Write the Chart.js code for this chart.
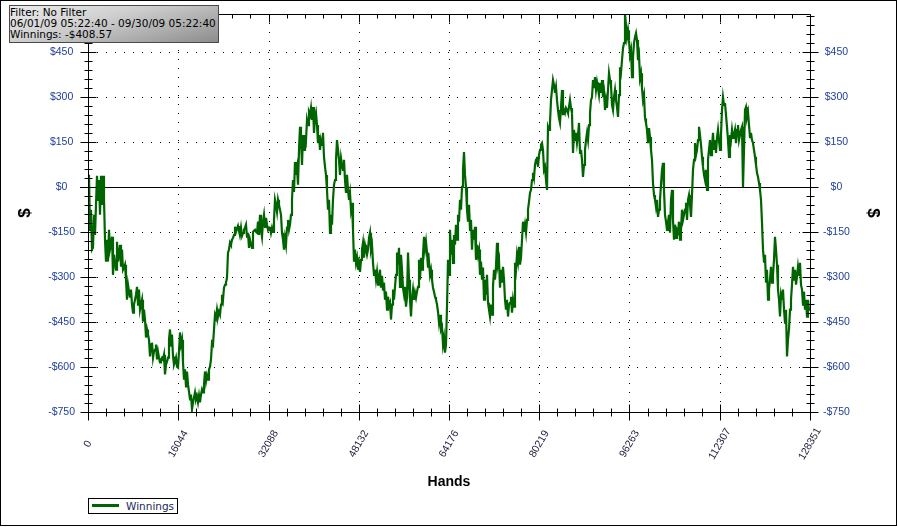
<!DOCTYPE html>
<html>
<head>
<meta charset="utf-8">
<script src="https://cdn.jsdelivr.net/npm/chart.js@4.4.1/dist/chart.umd.min.js"></script>
<style>
html,body{margin:0;padding:0;background:#fff;}
#wrap{position:relative;width:898px;height:527px;overflow:hidden;background:#fff;}
#c{position:absolute;left:0;top:0;}
#frame{position:absolute;left:0;top:0;width:897px;height:526px;box-sizing:border-box;border:1px solid #000;pointer-events:none;}
#info{position:absolute;left:9px;top:5px;width:210px;height:38px;box-sizing:border-box;border:1px solid #4a4a4a;
  background:linear-gradient(165deg,#ececec 0%,#cfcfcf 40%,#a9a9a9 75%,#8c8c8c 100%);
  font-family:"DejaVu Sans",sans-serif;font-size:10.5px;line-height:11px;color:#000;padding:1px 0 0 0;white-space:nowrap;}
#info div{height:11px;}
#legend{position:absolute;left:88px;top:498px;width:90px;height:16px;box-sizing:border-box;border:1px solid #000;background:#fff;}
#legend .sw{position:absolute;left:3px;top:5px;width:27px;height:3px;background:#006400;}
#legend .tx{position:absolute;left:37px;top:0px;line-height:14px;font-family:"DejaVu Sans",sans-serif;font-size:10.5px;color:#1a2a5a;}
</style>
</head>
<body>
<div id="wrap">
  <canvas id="c" width="898" height="527"></canvas>
  <div id="info">
    <div>Filter: No Filter</div>
    <div>06/01/09 05:22:40 - 09/30/09 05:22:40</div>
    <div>Winnings: -$408.57</div>
  </div>
  <div id="legend"><div class="sw"></div><div class="tx">Winnings</div></div>
  <div id="frame"></div>
</div>
<script>
// ---------- data ----------
const seriesName = 'Winnings';
const handsTotal = 128351;
const xTicks = [0, 16044, 32088, 48132, 64176, 80219, 96263, 112307, 128351];
const xTickLabels = ['0', '16044', '32088', '48132', '64176', '80219', '96263', '112307', '128351'];
const yTicks = [-750, -600, -450, -300, -150, 0, 150, 300, 450];
const yMin = -750, yMax = 576;
// cumulative winnings ($) at evenly spaced hand counts
const winnings = [
0,40,-143,-76,-209,-203,-93,-160,-60,37,-43,23,-93,37,-60,37,-43,-176,-249,-176,
-249,-143,-209,-193,-166,-293,-226,-249,-276,-183,-249,-226,-193,-266,-209,-276,-269,-259,-309,-376,
-326,-349,-369,-342,-392,-419,-392,-376,-359,-333,-392,-342,-409,-392,-376,-449,-409,-442,-502,-475,
-492,-509,-565,-525,-519,-569,-549,-542,-525,-575,-549,-569,-585,-575,-569,-575,-559,-625,-592,-582,
-569,-509,-475,-532,-492,-565,-592,-582,-569,-599,-602,-549,-485,-525,-509,-585,-642,-608,-665,-615,
-658,-682,-708,-692,-741,-718,-702,-685,-708,-698,-718,-695,-718,-692,-675,-685,-658,-615,-648,-628,
-642,-608,-599,-575,-519,-525,-475,-426,-436,-409,-432,-416,-426,-392,-359,-376,-336,-326,-319,-303,
-219,-209,-186,-193,-176,-170,-160,-133,-150,-140,-130,-146,-160,-136,-163,-153,-143,-136,-126,-166,
-153,-203,-176,-190,-203,-150,-146,-143,-150,-153,-116,-160,-93,-143,-166,-116,-93,-133,-103,-126,
-143,-136,-133,-153,-136,-150,-110,-43,-60,-83,-43,-60,-76,-93,-153,-176,-209,-170,-193,-136,
-110,-143,-126,-93,-43,23,-17,83,40,63,7,123,200,156,73,173,123,173,156,223,
206,249,239,263,223,266,180,229,246,206,146,173,123,156,140,180,100,67,40,-10,
-76,-43,-153,-93,-126,-43,7,23,90,156,123,90,40,96,73,57,90,23,-20,40,
-10,-43,-20,-76,-53,-143,-249,-209,-253,-236,-276,-253,-283,-243,-209,-186,-236,-193,-209,-226,
-209,-170,-153,-209,-193,-253,-293,-276,-309,-283,-326,-303,-276,-336,-296,-342,-319,-376,-349,-409,
-366,-396,-386,-442,-392,-342,-376,-333,-293,-219,-259,-203,-333,-226,-276,-336,-359,-333,-399,-369,
-219,-309,-376,-432,-369,-342,-376,-352,-369,-349,-333,-243,-309,-236,-276,-226,-166,-209,-183,-219,
-269,-249,-293,-276,-309,-336,-349,-366,-376,-392,-416,-452,-426,-475,-466,-525,-502,-552,-525,-399,
-243,-293,-143,-226,-176,-253,-160,-193,-126,-176,-93,-116,-43,-76,0,57,116,40,0,-76,
-116,-60,-143,-110,-209,-143,-176,-133,-243,-193,-226,-209,-293,-249,-309,-269,-376,-309,-359,-293,
-386,-409,-432,-392,-426,-333,-276,-309,-266,-186,-259,-243,-336,-276,-319,-266,-309,-376,-409,-376,
-432,-392,-386,-366,-419,-376,-399,-253,-276,-226,-249,-200,-259,-236,-176,-116,-150,-126,-153,-110,
-76,-50,-20,-10,23,47,30,73,90,100,67,106,123,140,146,123,57,67,23,-10,
200,190,213,289,323,356,339,313,333,289,256,229,213,263,323,239,256,246,263,256,
246,266,289,263,246,113,190,156,180,146,173,213,113,123,90,33,73,123,156,180,
156,206,246,289,299,356,329,366,323,349,329,306,346,313,356,299,316,256,289,263,
323,379,356,339,273,256,299,323,289,266,233,306,399,382,422,462,479,576,539,499,
522,489,439,456,366,432,479,499,512,489,422,439,362,379,329,289,306,229,213,190,
146,196,166,123,90,13,-27,-43,-67,-43,-100,-76,-43,7,57,80,-10,-93,-116,-143,
-116,-93,-153,-43,-10,-110,-176,-126,-170,-143,-150,-116,-176,-143,-76,-110,-93,-76,-53,-110,
-43,-27,-60,-100,-27,57,90,146,106,123,156,200,173,140,100,67,40,23,57,-10,
90,123,156,106,133,180,123,156,113,163,190,156,123,173,256,299,273,279,239,200,
156,100,173,156,190,163,173,190,146,190,206,156,173,190,200,0,123,256,266,233,
249,206,166,180,156,146,123,100,73,47,33,13,-10,-43,-120,-209,-249,-226,-319,-276,
-376,-342,-309,-266,-319,-293,-243,-166,-209,-259,-342,-376,-432,-359,-376,-342,-409,-452,-409,-565,
-509,-475,-409,-376,-326,-266,-309,-276,-326,-299,-266,-293,-253,-326,-342,-392,-349,-409,-376,-432,
-376,-409,-408.57
];
// hand count of each reading (even sampling grid across the session)
const hands = winnings.map((_, i) => Math.round(i * handsTotal / (winnings.length - 1)));

// ---------- helpers ----------
const money = v => (v < 0 ? '-$' : '$') + Math.abs(v);
const crisp = v => Math.round(v) + 0.5;
const yLabelColor = '#1e3f9a';
const xLabelColor = '#1a1a3a';

const frame = {
  id: 'frame',
  beforeDatasetsDraw(chart) {
    const {ctx, chartArea: a, scales: {x, y}} = chart;
    ctx.save();
    ctx.strokeStyle = '#000';
    ctx.lineWidth = 1;
    ctx.setLineDash([1, 8]);
    yTicks.forEach(v => {
      if (v === yMin || v === 0) return;
      const py = crisp(y.getPixelForValue(v));
      ctx.beginPath(); ctx.moveTo(a.left, py); ctx.lineTo(a.right, py); ctx.stroke();
    });
    xTicks.slice(1, -1).forEach(v => {
      const px = crisp(x.getPixelForValue(v));
      ctx.beginPath(); ctx.moveTo(px, a.top); ctx.lineTo(px, a.bottom); ctx.stroke();
    });
    ctx.setLineDash([]);
    const z = crisp(y.getPixelForValue(0));
    ctx.beginPath(); ctx.moveTo(a.left - 8, z); ctx.lineTo(a.right + 8, z); ctx.stroke();
    ctx.restore();
  },
  afterDatasetsDraw(chart) {
    const {ctx, chartArea: a, scales: {x, y}} = chart;
    const L = crisp(a.left), R = crisp(a.right), T = crisp(a.top), B = crisp(a.bottom);
    ctx.save();
    ctx.strokeStyle = '#000';
    ctx.lineWidth = 1;
    ctx.beginPath();
    ctx.moveTo(L, T); ctx.lineTo(R, T); ctx.lineTo(R, B); ctx.lineTo(L, B); ctx.closePath();
    ctx.stroke();
    ctx.beginPath();
    // y ticks (both sides)
    for (let v = yMin; v <= yMax; v += 30) {
      const py = crisp(y.getPixelForValue(v));
      const len = yTicks.includes(v) ? 8 : 4;
      ctx.moveTo(L - len, py); ctx.lineTo(L + len, py);
      ctx.moveTo(R - len, py); ctx.lineTo(R + len, py);
    }
    // x ticks (bottom and top)
    for (let i = 0; i < xTicks.length; i++) {
      const px = crisp(x.getPixelForValue(xTicks[i]));
      ctx.moveTo(px, B - 8); ctx.lineTo(px, B + 8);
      ctx.moveTo(px, T); ctx.lineTo(px, T + 8);
      if (i < xTicks.length - 1) {
        for (let k = 1; k < 5; k++) {
          const m = crisp(x.getPixelForValue(xTicks[i] + (xTicks[i + 1] - xTicks[i]) * k / 5));
          ctx.moveTo(m, B - 4); ctx.lineTo(m, B + 4);
          ctx.moveTo(m, T); ctx.lineTo(m, T + 4);
        }
      }
    }
    ctx.stroke();
    // rotated x labels, centred under their ticks
    ctx.fillStyle = xLabelColor;
    ctx.font = '10.5px "Liberation Sans"';
    ctx.textAlign = 'center';
    ctx.textBaseline = 'middle';
    xTicks.forEach((v, i) => {
      const px = x.getPixelForValue(v);
      ctx.save();
      ctx.translate(px, a.bottom + 32);
      ctx.rotate(-60 * Math.PI / 180);
      ctx.fillText(xTickLabels[i], 0, 0);
      ctx.restore();
    });
    ctx.restore();
  }
};

const yAxis = (position) => ({
  type: 'linear',
  position: position,
  min: yMin,
  max: yMax,
  afterBuildTicks: s => { s.ticks = yTicks.map(v => ({value: v})); },
  afterFit: s => { s.width = 88; s.paddingTop = 0; s.paddingBottom = 0; },
  grid: {display: false, drawTicks: false},
  border: {display: false},
  ticks: {
    crossAlign: 'center',
    padding: 13,
    color: yLabelColor,
    font: {family: 'Liberation Sans', size: 10.5},
    callback: v => money(v)
  },
  title: {
    display: true,
    text: '$',
    color: '#000',
    font: {family: 'Liberation Sans', size: 17, weight: 'bold'},
    padding: {top: 15, bottom: 0}
  }
});

new Chart(document.getElementById('c'), {
  type: 'line',
  data: {
    datasets: [{
      label: seriesName,
      data: hands.map((h, i) => ({x: h, y: winnings[i]})),
      borderColor: '#006400',
      borderWidth: 2.2,
      pointRadius: 0,
      tension: 0,
      fill: false,
      yAxisID: 'y'
    }]
  },
  options: {
    responsive: false,
    animation: false,
    devicePixelRatio: 1,
    layout: {padding: {left: 0, right: 0, top: 14, bottom: 35}},
    plugins: {legend: {display: false}, tooltip: {enabled: false}},
    scales: {
      x: {
        type: 'linear',
        position: 'bottom',
        min: 0,
        max: handsTotal,
        afterBuildTicks: s => { s.ticks = xTicks.map(v => ({value: v})); },
        afterFit: s => { s.height = 80; s.paddingLeft = 0; s.paddingRight = 0; },
        grid: {display: false, drawTicks: false},
        border: {display: false},
        ticks: {display: false},
        title: {
          display: true,
          text: 'Hands',
          color: '#000',
          font: {family: 'Liberation Sans', size: 14, weight: 'bold'},
          padding: {top: 0, bottom: 1}
        }
      },
      y: yAxis('left'),
      y2: yAxis('right')
    }
  },
  plugins: [frame]
});
</script>
</body>
</html>
